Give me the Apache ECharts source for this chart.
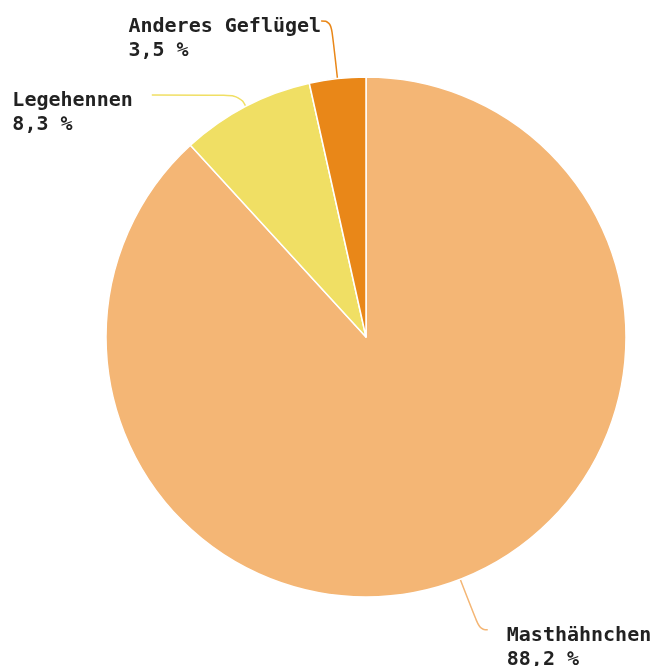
<!DOCTYPE html>
<html>
<head>
<meta charset="utf-8">
<script src="https://cdn.jsdelivr.net/npm/echarts@6/dist/echarts.min.js"></script>
<style>
  html, body { margin: 0; padding: 0; background: #fff; }
  #myChart { width: 652px; height: 666px; }
</style>
</head>
<body>
<div id="myChart"></div>
<script>
// Anteile Geflügel (Prozent)
var categories = ["Masthähnchen", "Legehennen", "Anderes Geflügel"];
var values = [88.2, 8.3, 3.5];
var colors = ["#f4b675", "#f0df64", "#e98718"];

// label line lengths per slice
var lineLen = [54, 13, 58];
var lineLen2 = [8, 88, 10];
var lineGap = [19, 19, 0];

var data = categories.map(function (name, i) {
  return {
    name: name,
    value: values[i],
    itemStyle: { color: colors[i] },
    label: { distanceToLabelLine: lineGap[i] },
    labelLine: {
      length: lineLen[i],
      length2: lineLen2[i],
      lineStyle: { color: colors[i] }
    }
  };
});

var myChart = echarts.init(document.getElementById("myChart"));
myChart.setOption({
  animation: false,
  series: [
    {
      type: "pie",
      center: [366, 337],
      radius: 260,
      startAngle: 90,
      clockwise: true,
      avoidLabelOverlap: false,
      data: data,
      itemStyle: {
        borderColor: "#fff",
        borderWidth: 1.5
      },
      label: {
        show: true,
        position: "outside",
        fontFamily: "DejaVu Sans Mono",
        fontWeight: "bold",
        fontSize: 20,
        lineHeight: 24,
        color: "#222",
        formatter: function (p) {
          return p.name + "\n" + String(p.value).replace(".", ",") + " %";
        }
      },
      labelLine: {
        show: true,
        smooth: 0.5,
        lineStyle: { width: 1.5 }
      },
      labelLayout: function (p) {
        var r = p.labelRect;
        return {
          x: r.x,
          y: r.y + r.height / 2 + 18,
          align: "left",
          verticalAlign: "middle",
          labelLinePoints: p.labelLinePoints
        };
      }
    }
  ]
});
</script>
</body>
</html>
